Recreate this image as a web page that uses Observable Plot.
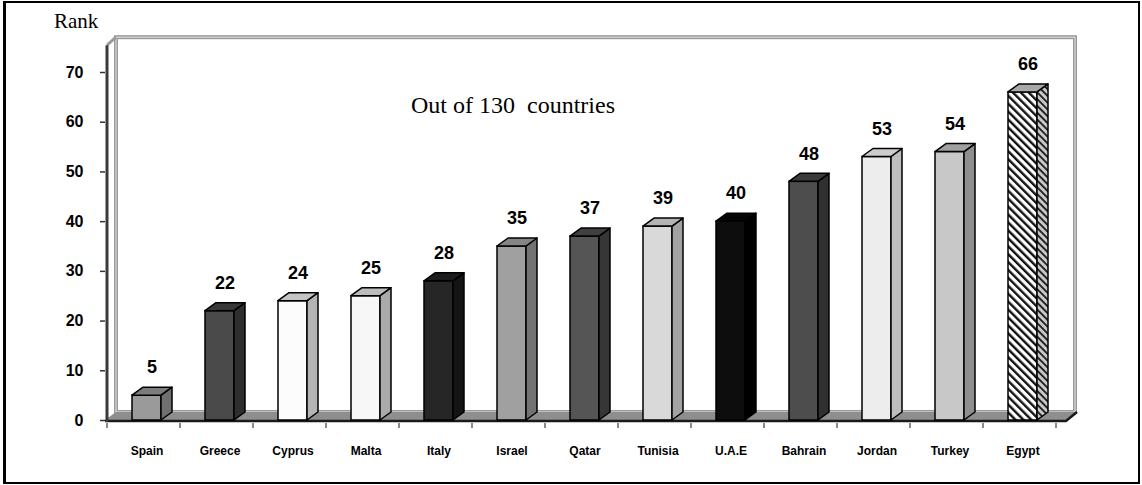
<!DOCTYPE html>
<html><head><meta charset="utf-8">
<script src="https://cdn.jsdelivr.net/npm/d3@7"></script>
<script src="https://cdn.jsdelivr.net/npm/@observablehq/plot@0.6"></script>
<style>
body{margin:0;background:#fff;}
#wrap{position:relative;width:1142px;height:485px;overflow:hidden;background:#fff;}
#wrap svg{position:absolute;left:0;top:0;}
#border{position:absolute;left:3px;top:1px;width:1132px;height:479px;border:2px solid #000;border-left-width:3px;pointer-events:none;}
#rank{position:absolute;left:54px;top:11px;font:21px "Liberation Serif",serif;line-height:21px;white-space:nowrap;}
#note{position:absolute;left:411px;top:93px;font:24px "Liberation Serif",serif;line-height:24px;white-space:pre;}
</style></head>
<body>
<div id="wrap">
  <div id="chart"></div>
  <div id="rank">Rank</div>
  <div id="note">Out of 130  countries</div>
  <div id="border"></div>
</div>
<script>
const countries = ["Spain","Greece","Cyprus","Malta","Italy","Israel","Qatar","Tunisia","U.A.E","Bahrain","Jordan","Turkey","Egypt"];
const ranks = [5,22,24,25,28,35,37,39,40,48,53,54,66];
const yTicks = [0,10,20,30,40,50,60,70];

const frontFill = ["#9a9a9a","#4a4a4a","#fcfcfc","#f7f7f7","#262626","#a0a0a0","#555555","#d9d9d9","#0d0d0d","#4d4d4d","#ededed","#c8c8c8","url(#hatch)"];
const sideFill  = ["#707070","#2e2e2e","#b4b4b4","#aaaaaa","#141414","#737373","#363636","#a2a2a2","#000000","#303030","#bdbdbd","#8e8e8e","url(#hatchSide)"];
const topFill   = ["#7c7c7c","#383838","#c4c4c4","#bcbcbc","#1c1c1c","#858585","#404040","#b4b4b4","#050505","#3a3a3a","#cccccc","#a0a0a0","#a8a8a8"];

const data = countries.map((c, i) => ({country: c, rank: ranks[i]}));

const chart = Plot.plot({
  width: 1142, height: 485,
  marginTop: 72, marginBottom: 65, marginLeft: 105, marginRight: 78,
  x: {type: "band", domain: countries, paddingInner: 0.6, paddingOuter: 0.3, label: null},
  y: {domain: [0, 70], label: null},
  color: {type: "identity"},
  style: {fontFamily: "'Liberation Sans', Arial, sans-serif", background: "transparent", color: "#000"},
  marks: [
    Plot.axisY({ticks: yTicks, tickSize: 5, tickPadding: 17, fontWeight: "bold", fontSize: 16, label: null, stroke: "#333", strokeWidth: 1.5}),
    Plot.axisX({tickSize: 0, tickPadding: 26, fontWeight: "bold", fontSize: 12, label: null}),
    Plot.barY(data, {x: "country", y: "rank", fill: (d, i) => frontFill[i], stroke: "#000", strokeWidth: 1.5}),
    Plot.text(data, {x: "country", y: "rank", text: d => String(d.rank), dy: -28, dx: 5, fontWeight: "bold", fontSize: 18, fill: "#000"})
  ]
});

document.getElementById("chart").appendChild(chart);

// 3D decoration derived from the library's scales
const xs = chart.scale("x"), ys = chart.scale("y");
const bw = xs.bandwidth, step = xs.step;
const [r0, r1] = xs.range;
const y0 = ys.apply(0);
const DX = 11, DY = 8;
const sel = d3.select(chart);

const defs = sel.insert("defs", ":first-child");
const p1 = defs.append("pattern").attr("id", "hatch").attr("patternUnits", "userSpaceOnUse")
  .attr("width", 5.6).attr("height", 5.6).attr("patternTransform", "rotate(-45)");
p1.append("rect").attr("width", 5.6).attr("height", 5.6).attr("fill", "#fff");
p1.append("rect").attr("width", 2.4).attr("height", 5.6).attr("fill", "#111");
const p2 = defs.append("pattern").attr("id", "hatchSide").attr("patternUnits", "userSpaceOnUse")
  .attr("width", 4.8).attr("height", 4.8).attr("patternTransform", "rotate(-45)");
p2.append("rect").attr("width", 4.8).attr("height", 4.8).attr("fill", "#c8c8c8");
p2.append("rect").attr("width", 1.9).attr("height", 4.8).attr("fill", "#222");

// back wall + floor
const back = sel.insert("g", "g");
const wallTop = ys.apply(77);
back.append("rect").attr("x", r0 + DX).attr("y", wallTop).attr("width", r1 - r0).attr("height", y0 - DY - wallTop)
  .attr("fill", "none").attr("stroke", "#9a9a9a").attr("stroke-width", 4);
back.append("rect").attr("x", r0 + DX).attr("y", wallTop).attr("width", r1 - r0).attr("height", y0 - DY - wallTop)
  .attr("fill", "none").attr("stroke", "#e6e6e6").attr("stroke-width", 1);
back.append("line").attr("x1", r0 + 2).attr("y1", wallTop + DY).attr("x2", r0 + DX).attr("y2", wallTop)
  .attr("stroke", "#9a9a9a").attr("stroke-width", 3);
back.append("polygon")
  .attr("points", [[r0, y0], [r0 + DX, y0 - DY], [r1 + DX + 2, y0 - DY], [r1 + 2, y0]].map(p => p.join(",")).join(" "))
  .attr("fill", "#8e8e8e");
back.append("polyline")
  .attr("points", [[r0, y0 + 1], [r1 + 2, y0 + 1], [r1 + DX + 2, y0 - DY]].map(p => p.join(",")).join(" "))
  .attr("fill", "none").attr("stroke", "#1a1a1a").attr("stroke-width", 2.5);
for (let k = 0; k <= countries.length; k++) {
  const x = r0 + 2 + k * step;
  back.append("line").attr("x1", x).attr("x2", x).attr("y1", y0 + 3).attr("y2", y0 + 8)
    .attr("stroke", "#8a8a8a").attr("stroke-width", 2);
}
back.append("line").attr("x1", r0 + 2).attr("x2", r0 + 2).attr("y1", wallTop + DY).attr("y2", y0 + 2)
  .attr("stroke", "#3a3a3a").attr("stroke-width", 3);

// side and top faces of each bar
const barGroup = chart.querySelector('g[aria-label="bar"]');
const faces = document.createElementNS("http://www.w3.org/2000/svg", "g");
barGroup.after(faces);
const fs = d3.select(faces);
data.forEach((d, i) => {
  const x0 = xs.apply(d.country), x1 = x0 + bw, yt = ys.apply(d.rank);
  fs.append("polygon")
    .attr("points", [[x1, y0], [x1 + DX, y0 - DY], [x1 + DX, yt - DY], [x1, yt]].map(p => p.join(",")).join(" "))
    .attr("fill", sideFill[i]).attr("stroke", "#000").attr("stroke-width", 1.5).attr("stroke-linejoin", "round");
  fs.append("polygon")
    .attr("points", [[x0, yt], [x0 + DX, yt - DY], [x1 + DX, yt - DY], [x1, yt]].map(p => p.join(",")).join(" "))
    .attr("fill", topFill[i]).attr("stroke", "#000").attr("stroke-width", 1.5).attr("stroke-linejoin", "round");
});
</script>
</body></html>
